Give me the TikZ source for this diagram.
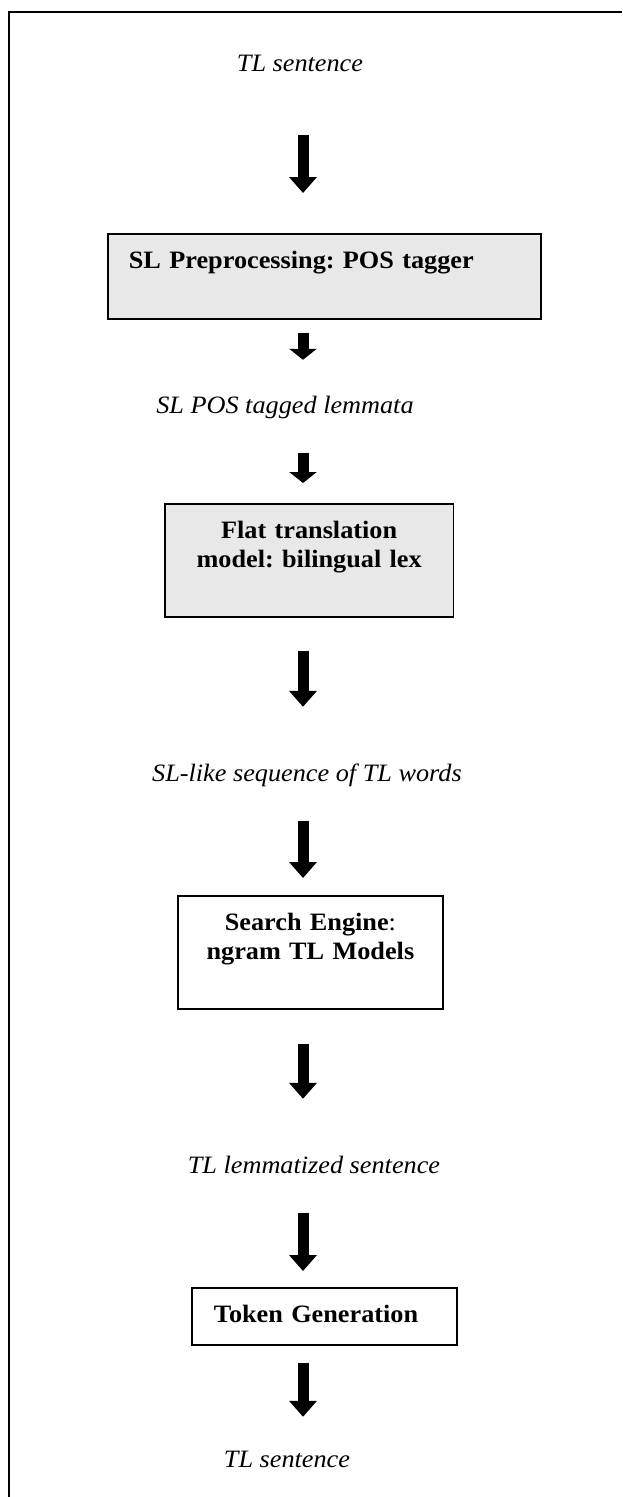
\documentclass[tikz,border=0pt]{standalone}
\usepackage{fontspec}
\setmainfont{Liberation Serif}[FakeStretch=1.05]
\usepackage{tikz}
\usetikzlibrary{arrows.meta}
\definecolor{boxgray}{HTML}{E8E8E8}
\frenchspacing

\begin{document}
\begin{tikzpicture}[x=1pt, y=-1pt,
    note/.style={font=\fontsize{25}{29}\selectfont\itshape, inner sep=0pt,
      text height=17pt, text depth=5pt, anchor=base},
    stage/.style={draw, line width=1.8pt, font=\fontsize{25}{29}\selectfont\bfseries,
      inner ysep=0pt, text height=34.3pt, anchor=north west},
    flow/.style={line width=11pt, -{Triangle[width=27pt, length=16pt]}},
    shortflow/.style={line width=11pt, -{Triangle[width=27pt, length=11pt]}}]
      \useasboundingbox (0,0) rectangle (622,1497);
      \draw[line width=1.8pt] (8.7,1497) -- (8.7,12.3) -- (622,12.3);
      \coordinate (axis) at (303,0);
      \node[note] (tlin)    at (300,71)   {TL sentence};
      \node[stage, fill=boxgray, text width=391pt, inner xsep=21pt, align=left,
        text depth=50.7pt] (pre) at (107,233) {SL Preprocessing: POS tagger};
      \node[note] (lemmata) at (285,413)  {SL POS tagged lemmata};
      \node[stage, fill=boxgray, text width=288.5pt, inner xsep=0pt, align=center,
        text depth=78.7pt] (flat) at (164,503) {Flat translation\\model: bilingual lex};
      \node[note] (seq)     at (307,781)  {SL-like sequence of TL words};
      \node[stage, text width=265pt, inner xsep=0pt, align=center,
        text depth=78.7pt] (search) at (177,895) {Search Engine{\mdseries:}\\ngram TL Models};
      \node[note] (lemz)    at (314,1173) {TL lemmatized sentence};
      \node[stage, text width=221pt, inner xsep=22pt, align=left,
        text depth=22.7pt] (token) at (191,1287) {Token Generation};
      \node[note] (tlout)   at (287,1467) {TL sentence};
      \draw[flow, shorten <=59pt, shorten >=40pt] (tlin.south -| axis) -- (pre.north -| axis);
      \draw[shortflow, shorten <=13pt, shorten >=36pt] (pre.south -| axis) -- (lemmata.north -| axis);
      \draw[shortflow, shorten <=35pt, shorten >=20pt] (lemmata.south -| axis) -- (flat.north -| axis);
      \draw[flow, shorten <=33pt, shorten >=57pt] (flat.south -| axis) -- (seq.north -| axis);
      \draw[flow, shorten <=35pt, shorten >=17pt] (seq.south -| axis) -- (search.north -| axis);
      \draw[flow, shorten <=34pt, shorten >=57pt] (search.south -| axis) -- (lemz.north -| axis);
      \draw[flow, shorten <=35pt, shorten >=16pt] (lemz.south -| axis) -- (token.north -| axis);
      \draw[flow, shorten <=17pt, shorten >=33pt] (token.south -| axis) -- (tlout.north -| axis);
  \end{tikzpicture}
\end{document}
